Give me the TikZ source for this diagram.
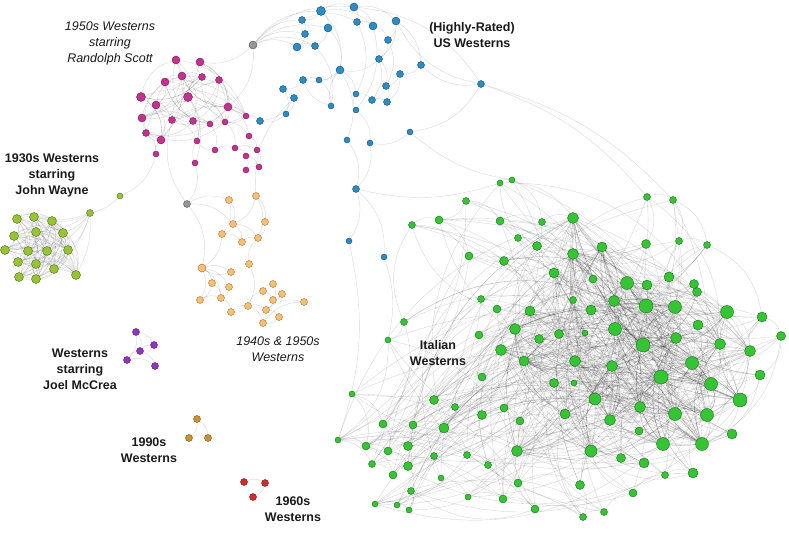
\documentclass[tikz,border=0pt]{standalone}
\usepackage{fontspec}
\setmainfont{Liberation Sans}
\pgfdeclarelayer{bg}
\pgfsetlayers{bg,main}
\definecolor{itgreen}{RGB}{52,196,52}
\definecolor{jwgreen}{RGB}{150,196,52}
\definecolor{usblue}{RGB}{44,140,196}
\definecolor{rsmag}{RGB}{196,50,145}
\definecolor{orng}{RGB}{250,192,112}
\definecolor{grey1}{RGB}{150,150,150}
\definecolor{purp}{RGB}{145,52,192}
\definecolor{gold1}{RGB}{200,148,48}
\definecolor{red1}{RGB}{204,46,46}
\tikzset{
  edge/.style={draw=black, draw opacity=0.17, line width=0.35pt},
  vtx/.style={circle, inner sep=0pt, line width=0.4pt},
  gn/.style={vtx, fill=itgreen, draw=itgreen!55!black},
  wn/.style={vtx, fill=jwgreen, draw=jwgreen!55!black},
  bn/.style={vtx, fill=usblue, draw=usblue!55!black},
  mn/.style={vtx, fill=rsmag, draw=rsmag!55!black},
  on/.style={vtx, fill=orng, draw=orng!60!black},
  xn/.style={vtx, fill=grey1, draw=grey1!55!black},
  pn/.style={vtx, fill=purp, draw=purp!55!black},
  dn/.style={vtx, fill=gold1, draw=gold1!55!black},
  rn/.style={vtx, fill=red1, draw=red1!55!black},
  lab/.style={font=\fontsize{12.5}{16}\selectfont\bfseries, align=center, text=black!90},
  ilab/.style={font=\fontsize{12.5}{16}\selectfont\itshape, align=center, text=black!90},
}
\def\greenlist{1/500/183/6, 2/512/180/6, 3/647/197/7, 4/673/200/7, 5/466/201/7, 6/412/225/7, 7/439/220/8, 8/500/221/8, 9/542/222/7, 10/573/218/11, 11/518/238/7, 12/537/246/9, 13/573/254/11, 14/602/247/10, 15/646/244/9, 16/679/241/7, 17/707/245/7, 18/469/256/8, 19/504/261/9, 20/554/273/10, 21/593/279/8, 22/627/283/13, 23/647/285/10, 24/669/277/10, 25/694/284/9, 26/697/292/9, 27/481/299/7, 28/497/309/8, 29/530/311/10, 30/573/300/7, 31/591/310/10, 32/614/301/11, 33/646/306/14, 34/675/307/13, 35/727/312/13, 36/762/317/10, 37/404/322/7, 38/388/340/6, 39/479/335/8, 40/515/329/11, 41/539/339/9, 42/559/334/9, 43/585/333/6, 44/615/329/13, 45/698/325/10, 46/781/336/9, 47/501/350/11, 48/643/345/14, 49/676/338/11, 50/720/344/11, 51/750/351/11, 52/575/361/11, 53/612/366/11, 54/692/363/13, 55/524/361/10, 56/661/377/14, 57/711/384/13, 58/760/375/10, 59/482/377/8, 60/554/383/9, 61/574/383/6, 62/352/394/6, 63/434/400/9, 64/455/407/7, 65/595/399/12, 66/640/407/11, 67/740/400/14, 68/383/424/8, 69/413/425/8, 70/482/415/9, 71/504/408/8, 72/520/421/8, 73/565/414/10, 74/610/420/11, 75/675/414/13, 76/707/415/13, 77/444/428/10, 78/639/431/8, 79/732/434/10, 80/338/440/6, 81/366/446/8, 82/388/451/8, 83/408/446/9, 84/517/451/11, 85/591/451/12, 86/663/444/13, 87/702/444/13, 88/434/456/7, 89/467/455/7, 90/488/465/7, 91/372/464/7, 92/393/475/8, 93/408/466/9, 94/621/458/9, 95/644/463/10, 96/441/478/6, 97/518/483/8, 98/580/485/9, 99/665/475/7, 100/693/473/10, 101/411/491/7, 102/633/493/8, 103/468/497/6, 104/503/499/8, 105/375/504/6, 106/397/505/6, 107/409/510/6, 108/535/509/8, 109/583/517/7, 110/604/512/7}
\def\maglist{1/176/60/8, 2/200/62/8, 3/182/76/8, 4/202/77/7, 5/219/80/7, 6/165/82/8, 7/141/97/9, 8/188/97/9, 9/156/105/8, 10/228/107/8, 11/142/118/8, 12/172/120/7, 13/193/121/7, 14/210/124/6, 15/225/122/6, 16/246/116/6, 17/146/133/7, 18/161/140/8, 19/197/141/6, 20/249/136/6, 21/215/150/6, 22/235/148/6, 23/257/150/6, 24/156/154/6, 25/246/156/6, 26/195/163/6, 27/246/170/6, 28/259/167/6}
\pgfmathdeclarerandomlist{hubs}{{10}{13}{22}{32}{33}{34}{35}{40}{44}{47}{48}{49}{50}{51}{52}{53}{54}{56}{57}{65}{66}{67}{74}{75}{76}{84}{85}{86}{87}{14}{20}{29}{55}{73}}
\begin{document}
\begin{tikzpicture}[x=1pt,y=-1pt]
\useasboundingbox (0,0) rectangle (789,545);
% ---------- nodes ----------
\foreach \n/\x/\y/\s in \greenlist {\node[gn, minimum size=\s pt] (g\n) at (\x,\y) {};}
\foreach \n/\x/\y/\s in \maglist {\node[mn, minimum size=\s pt] (m\n) at (\x,\y) {};}
\foreach \n/\x/\y/\s in {1/321/11/9, 2/354/7/8, 3/302/20/7, 4/357/22/7, 5/373/26/8, 6/396/21/8, 7/328/28/8, 8/305/34/7, 9/388/40/7, 10/297/47/8, 11/315/46/7, 12/379/59/7, 13/340/70/8, 14/421/65/7, 15/400/74/7, 16/303/80/7, 17/319/80/6, 18/481/84/7, 19/283/89/7, 20/386/86/7, 21/294/98/7, 22/356/94/6, 23/372/100/7, 24/387/102/7, 25/331/106/6, 26/356/110/6, 27/286/114/6, 28/260/121/7, 29/410/132/6, 30/347/140/6, 31/370/143/6, 32/356/189/7, 33/349/241/6, 34/384/257/6}
  {\node[bn, minimum size=\s pt] (b\n) at (\x,\y) {};}
\foreach \n/\x/\y in {1/17/219, 2/34/217, 3/52/221, 4/14/236, 5/36/232, 6/63/233, 7/5/250, 8/28/251, 9/47/251, 10/68/250, 11/18/262, 12/36/264, 13/54/269, 14/19/277, 15/36/279, 16/76/275}
  {\node[wn, minimum size=9pt] (w\n) at (\x,\y) {};}
\node[wn, minimum size=7pt] (w17) at (90,213) {};
\node[wn, minimum size=6pt] (w18) at (120,196) {};
\foreach \n/\x/\y in {1/229/200, 2/256/196, 3/233/224, 4/265/222, 5/222/234, 6/242/242, 7/258/238, 8/202/268, 9/249/264, 10/231/272, 11/212/283, 12/229/287, 13/273/284, 14/263/291, 15/200/300, 16/221/298, 17/282/294, 18/273/300, 19/248/306, 20/266/310, 21/304/302, 22/231/312, 23/279/317, 24/263/323}
  {\node[on, minimum size=7pt] (o\n) at (\x,\y) {};}
\node[on, minimum size=8pt] at (o8) {};
\node[xn, minimum size=8pt] (x1) at (253,45) {};
\node[xn, minimum size=7pt] (x2) at (187,204) {};
\foreach \n/\x/\y in {1/136/332, 2/154/345, 3/140/351, 4/127/360, 5/155/366}
  {\node[pn, minimum size=7pt] (p\n) at (\x,\y) {};}
\foreach \n/\x/\y in {1/197/419, 2/189/438, 3/208/438}
  {\node[dn, minimum size=7pt] (d\n) at (\x,\y) {};}
\foreach \n/\x/\y in {1/244/482, 2/265/483, 3/253/497}
  {\node[rn, minimum size=7pt] (r\n) at (\x,\y) {};}
% ---------- labels ----------
\node[ilab] (l1) at (110,43) {1950s Westerns\\starring\\Randolph Scott};
\node[lab] (l2) at (472,35) {(Highly-Rated)\\US Westerns};
\node[lab] (l3) at (52,175) {1930s Westerns\\starring\\John Wayne};
\node[lab] (l4) at (438,353) {Italian\\Westerns};
\node[lab] (l5) at (80,369) {Westerns\\starring\\Joel McCrea};
\node[ilab] (l6) at (278,349) {1940s \& 1950s\\Westerns};
\node[lab] (l7) at (149,450) {1990s\\Westerns};
\node[lab] (l8) at (293,509) {1960s\\Westerns};
% ---------- edges ----------
\begin{pgfonlayer}{bg}
\pgfmathsetseed{4242}
\foreach \n/\x/\y/\s in \greenlist {
  \pgfmathtruncatemacro{\k}{\s-5}
  \foreach \t in {1,...,\k}{
    \pgfmathrandomitem{\h}{hubs}
    \ifnum\n=\h\relax\else\draw[edge] (g\n) to[bend left=28] (g\h);\fi
  }
  \pgfmathtruncatemacro{\j}{random(1,110)}
  \ifnum\n=\j\relax\else\draw[edge] (g\n) to[bend left=28] (g\j);\fi
}
\foreach \n in {10,13,22,32,33,34,35,40,44,47,48,49,50,51,52,53,54,56,57,65,66,67,74,75,76,84,85,86,87}{
  \foreach \t in {1,...,5}{
    \pgfmathrandomitem{\h}{hubs}
    \ifnum\n=\h\relax\else\draw[edge] (g\n) to[bend left=28] (g\h);\fi
  }
}
\foreach \a/\b in {62/68, 62/81, 68/69, 68/81, 68/82, 69/82, 69/83, 69/77, 80/81, 80/91, 81/82, 81/92, 82/83, 82/93, 83/93, 83/88, 91/92, 92/93, 93/101, 101/105, 101/106, 101/107, 105/106, 106/107, 96/88, 77/89, 89/90, 90/104, 103/104, 96/103, 63/64, 63/77, 64/70, 70/71, 71/72, 72/84, 59/63, 37/38, 37/6, 6/7, 5/7, 7/18, 5/8, 8/9, 9/10, 10/12, 10/13, 1/2, 3/4, 4/16, 4/17, 3/15, 16/17, 17/36, 11/12, 18/19, 19/20, 27/28, 28/29, 97/98, 98/109, 108/109, 109/110, 110/102, 102/99, 99/100, 104/108, 97/104, 80/108, 80/97, 105/109, 106/110, 91/104, 62/97, 38/80, 37/68, 6/18, 1/10, 2/9, 36/46, 46/58, 58/67}
  {\draw[edge] (g\a) to[bend left=28] (g\b);}
% magenta
\foreach \n/\x/\y/\s in \maglist {
  \ifnum\n<19
  \pgfmathtruncatemacro{\k}{\s-4}
  \foreach \t in {1,...,\k}{
    \pgfmathtruncatemacro{\j}{random(1,18)}
    \ifnum\n=\j\relax\else\draw[edge] (m\n) to[bend left=30] (m\j);\fi
  }
  \fi
}
\foreach \a/\b in {m21/m19, m21/m22, m22/m25, m22/m23, m25/m27, m25/m28, m23/m28, m15/m22, m15/m20, m14/m21, m13/m14, m16/m15, m16/b28, m20/m23, m24/m18, m24/w18, m26/m19, m26/x2, m10/m15, m10/m16, m13/m19, m12/m19, m8/m19, m5/m10, m14/m15, m10/m20, m17/m24, x1/m10, x1/m2, x2/m12, m27/m28, m8/m26}
  {\draw[edge] (\a) to[bend left=25] (\b);}
% blue and grey
\foreach \a/\b in {b1/b2, b1/b3, b1/b7, b1/b5, b2/b4, b2/b6, b2/b5, b3/b8, b7/b11, b8/b10, b5/b9, b6/b9, b6/b14, b6/b12, b9/b12, b12/b13, b12/b20, b12/b23, b13/b16, b13/b17, b13/b22, b13/b30, b14/b15, b15/b20, b15/b24, b18/b14, b18/b6, b18/b29, b2/b18, b20/b24, b22/b23, b23/b24, b16/b19, b19/b21, b19/b27, b21/b27, b27/b28, b16/b17, b25/b13, b25/b16, b26/b22, b26/b31, b29/b31, b30/b32, b31/b32, b32/b33, b32/b34, b5/b26, b4/b22, b7/b13, b1/b13, b11/b25, x1/b1, x1/b3, x1/b7, x1/b8, x1/b10, x1/b11, x1/b2, b4/b5, b3/b4, b9/b20, b10/b11, b21/b28, b17/b25}
  {\draw[edge] (\a) to[bend left=25] (\b);}
\foreach \a/\b in {b18/g3, b18/g4, g2/b29, b34/g38, b33/g80, g1/b32}
  {\draw[edge] (\a) to[bend left=15] (\b);}
% John Wayne cluster
\foreach \i in {1,...,16}{\foreach \j in {\i,...,16}{\ifnum\i<\j \draw[edge] (w\i) to[bend left=32] (w\j);\fi}}
\foreach \b in {2,3,5,6,9,10,13,16}{\draw[edge] (w17) to[bend left=15] (w\b);}
\draw[edge] (w18) to[bend left=15] (w17);
% orange
\foreach \a/\b in {x2/o1, x2/o3, x2/o8, o1/o3, o2/o3, o2/o4, o2/o7, o2/b21, o3/o5, o3/o6, o3/o7, o4/o7, o5/o6, o6/o7, o5/o8, o8/o10, o8/o11, o8/o15, o8/o16, o8/o12, o11/o15, o11/o16, o12/o16, o15/o16, o16/o22, o22/o19, o19/o14, o19/o20, o19/o24, o14/o13, o14/o18, o13/o18, o17/o18, o18/o20, o20/o23, o23/o24, o24/o21, o9/o19, o9/o7, o1/o5, o20/o21, o10/o8}
  {\draw[edge] (\a) to[bend left=25] (\b);}
% small groups
\foreach \a/\b in {p1/p3, p1/p4, p3/p2, p3/p5, p4/p5, p4/p3, p1/p2, d1/d2, d1/d3, d2/d3, r1/r2, r2/r3}
  {\draw[edge] (\a) to[bend left=25] (\b);}
\end{pgfonlayer}
\end{tikzpicture}
\end{document}
